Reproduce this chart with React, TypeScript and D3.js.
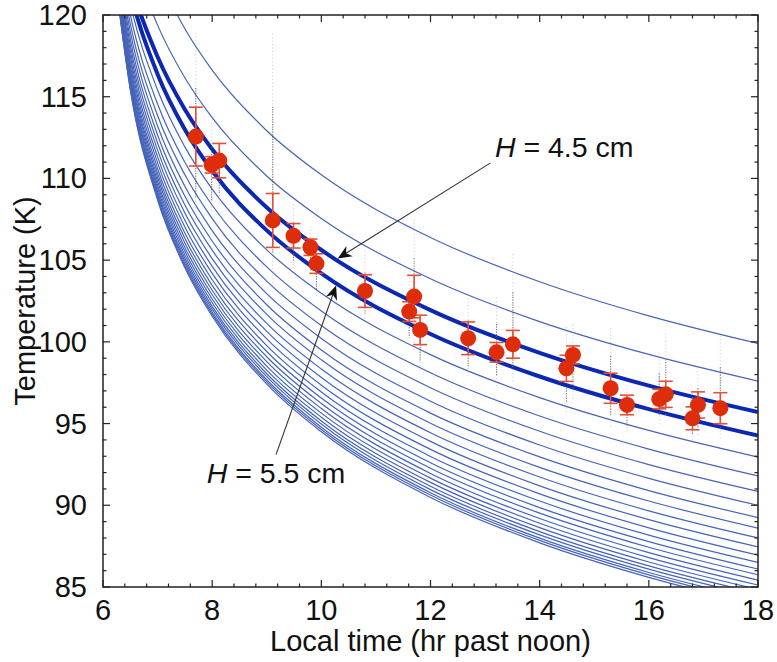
import React from 'react';
import * as d3 from 'd3';

// Model cooling curves: temperature (K) sampled at these local times (hr past noon)
const curveX = [6.2, 6.5, 7, 7.5, 8, 9, 10, 12, 14, 16, 18];
const modelCurves: number[][] = [
  [131.83, 127.38, 122.51, 119.16, 116.63, 112.92, 110.22, 106.39, 103.68, 101.59, 99.9],
  [128.34, 124.06, 119.38, 116.16, 113.72, 110.15, 107.55, 103.86, 101.24, 99.23, 97.6],
  [126.41, 122.13, 117.44, 114.22, 111.79, 108.22, 105.62, 101.94, 99.33, 97.32, 95.7],
  [126.32, 121.46, 116.38, 113.0, 110.47, 106.82, 104.19, 100.48, 97.88, 95.88, 94.26],
  [125.88, 120.7, 115.41, 111.93, 109.35, 105.63, 102.97, 99.22, 96.59, 94.58, 92.95],
  [125.5, 120.03, 114.55, 110.99, 108.36, 104.59, 101.89, 98.11, 95.46, 93.44, 91.8],
  [125.18, 119.47, 113.85, 110.22, 107.54, 103.72, 101.0, 97.19, 94.53, 92.49, 90.85],
  [124.9, 118.98, 113.21, 109.52, 106.81, 102.95, 100.21, 96.37, 93.69, 91.65, 90.0],
  [124.65, 118.54, 112.66, 108.91, 106.17, 102.27, 99.5, 95.64, 92.96, 90.9, 89.25],
  [124.43, 118.16, 112.17, 108.38, 105.61, 101.68, 98.9, 95.02, 92.32, 90.26, 88.6],
  [124.23, 117.81, 111.73, 107.89, 105.09, 101.13, 98.34, 94.44, 91.73, 89.66, 88.0],
  [124.05, 117.49, 111.32, 107.44, 104.62, 100.64, 97.82, 93.91, 91.19, 89.12, 87.45],
  [123.88, 117.2, 110.95, 107.03, 104.19, 100.18, 97.35, 93.42, 90.7, 88.62, 86.95],
  [123.73, 116.94, 110.61, 106.66, 103.8, 99.77, 96.93, 92.99, 90.26, 88.17, 86.5],
  [123.6, 116.7, 110.32, 106.34, 103.46, 99.41, 96.56, 92.6, 89.86, 87.78, 86.1],
  [123.48, 116.5, 110.06, 106.05, 103.16, 99.09, 96.23, 92.27, 89.52, 87.43, 85.75],
  [123.37, 116.31, 109.81, 105.78, 102.88, 98.79, 95.92, 91.95, 89.19, 87.1, 85.42],
  [123.27, 116.13, 109.59, 105.54, 102.62, 98.52, 95.64, 91.66, 88.9, 86.8, 85.12],
  [123.18, 115.97, 109.39, 105.32, 102.39, 98.27, 95.39, 91.4, 88.63, 86.53, 84.85],
  [123.09, 115.83, 109.2, 105.11, 102.17, 98.05, 95.16, 91.16, 88.39, 86.29, 84.6],
  [123.03, 115.71, 109.05, 104.95, 102.0, 97.87, 94.97, 90.96, 88.19, 86.09, 84.4],
  [122.96, 115.6, 108.9, 104.79, 101.83, 97.68, 94.78, 90.77, 87.99, 85.89, 84.2],
  [122.91, 115.51, 108.79, 104.66, 101.7, 97.55, 94.64, 90.63, 87.85, 85.74, 84.05],
  [122.86, 115.42, 108.68, 104.54, 101.57, 97.41, 94.5, 90.48, 87.7, 85.59, 83.9],
];
const thickCurves = [2, 3]; // H = 4.5 cm and H = 5.5 cm

// Observations
const pointX = [7.7, 7.99, 8.13, 9.11, 9.49, 9.8, 9.91, 10.8, 11.61, 11.7, 11.81, 12.69, 13.21, 13.51, 14.49, 14.61, 15.3, 15.6, 16.19, 16.31, 16.8, 16.9, 17.31];
const pointT = [112.56, 110.83, 111.09, 107.43, 106.49, 105.79, 104.79, 103.11, 101.85, 102.77, 100.73, 100.22, 99.36, 99.85, 98.38, 99.2, 97.16, 96.14, 96.5, 96.79, 95.32, 96.14, 95.94];
const pointErr = [1.8, 0.5, 1.05, 1.65, 0.75, 0.5, 0.6, 1.0, 0.6, 1.3, 0.9, 1.0, 0.6, 0.85, 0.8, 0.55, 0.92, 0.6, 0.6, 0.8, 0.7, 0.8, 0.95];
const scatterLo = [107.5, 108.0, 108.5, 103.6, 104.5, 104.0, 102.8, 101.2, 99.8, 99.5, 98.3, 97.9, 97.3, 97.6, 95.7, 96.5, 94.8, 94.5, 95.0, 95.5, 94.0, 94.3, 94.1];
const scatterHi = [119.0, 113.6, 113.4, 119.0, 108.5, 107.0, 106.0, 105.6, 104.5, 107.5, 103.0, 102.8, 102.8, 105.4, 101.0, 101.2, 101.0, 97.5, 99.5, 100.5, 97.0, 98.5, 100.4];

const xTicks = [6, 8, 10, 12, 14, 16, 18];
const yTicks = [85, 90, 95, 100, 105, 110, 115, 120];

const annotLabels = ['4.5', '5.5'];
const annotTextX = [13.18, 7.9];
const annotTextT = [111.32, 91.36];
const annotFromX = [13.1, 9.17];
const annotFromT = [110.95, 93.1];
const annotToX = [10.3, 10.27];
const annotToT = [105.1, 103.45];

const FONT = "'Liberation Sans', Arial, Helvetica, sans-serif";

export default function App() {
  const left = 103, right = 758, top = 15, bottom = 587;
  const x = d3.scaleLinear().domain([6, 18]).range([left, right]);
  const y = d3.scaleLinear().domain([85, 120]).range([bottom, top]);
  const line = d3
    .line<[number, number]>()
    .x((d) => x(d[0]))
    .y((d) => y(d[1]))
    .curve(d3.curveMonotoneX);

  const xMinor = d3.range(0, 31).map((i) => 6 + i * 0.4);
  const yMinor = d3.range(85, 121, 1);
  const majLen = 7, minLen = 3.5;

  const thinColor = 'rgb(70,100,185)';
  const thickColor = 'rgb(12,40,178)';
  const red = 'rgb(222,45,10)';
  const barRed = 'rgb(225,80,55)';

  const arrows = annotLabels.map((lab, i) => {
    const x1 = x(annotFromX[i]), y1 = y(annotFromT[i]);
    const x2 = x(annotToX[i]), y2 = y(annotToT[i]);
    const len = Math.hypot(x2 - x1, y2 - y1);
    const ux = (x2 - x1) / len, uy = (y2 - y1) / len;
    const nx = -uy, ny = ux;
    const L = 14, w = 6;
    const bx = x2 - L * ux, by = y2 - L * uy;
    const mx = x2 - 0.7 * L * ux, my = y2 - 0.7 * L * uy;
    const head = `M${x2},${y2} L${bx + w * nx},${by + w * ny} L${mx},${my} L${bx - w * nx},${by - w * ny} Z`;
    return { lab, x1, y1, mx, my, head, tx: x(annotTextX[i]), ty: y(annotTextT[i]) };
  });

  return (
    <svg width={777} height={662} style={{ position: 'absolute', left: 0, top: 0, background: '#fff' }} fontFamily={FONT}>
      <defs>
        <clipPath id="plotClip">
          <rect x={left} y={top} width={right - left} height={bottom - top} />
        </clipPath>
      </defs>
      <rect x={0} y={0} width={777} height={662} fill="#fff" />
      <g clipPath="url(#plotClip)">
        {modelCurves.map((vals, i) =>
          thickCurves.includes(i) ? null : (
            <path key={'c' + i} d={line(curveX.map((cx, j) => [cx, vals[j]]))!} fill="none" stroke={thinColor} strokeWidth={1.2} />
          )
        )}
        {thickCurves.map((i) => (
          <path key={'t' + i} d={line(curveX.map((cx, j) => [cx, modelCurves[i][j]]))!} fill="none" stroke={thickColor} strokeWidth={4} />
        ))}
        {pointX.map((px, i) => {
          const span = scatterHi[i] - scatterLo[i];
          return (
            <g key={'s' + i}>
              <line x1={x(px)} x2={x(px)} y1={y(scatterLo[i])} y2={y(scatterHi[i])} stroke="#aaa" strokeWidth={1} strokeDasharray="1 2.5" opacity={0.6} />
              <line x1={x(px)} x2={x(px)} y1={y(scatterLo[i] + 0.12 * span)} y2={y(scatterHi[i] - 0.3 * span)} stroke="#333" strokeWidth={1.1} strokeDasharray="1.2 1.3" opacity={0.6} />
            </g>
          );
        })}
        {pointX.map((px, i) => (
          <g key={'e' + i} stroke={barRed} strokeWidth={1.6}>
            <line x1={x(px)} x2={x(px)} y1={y(pointT[i] - pointErr[i])} y2={y(pointT[i] + pointErr[i])} />
            <line x1={x(px) - 7} x2={x(px) + 7} y1={y(pointT[i] - pointErr[i])} y2={y(pointT[i] - pointErr[i])} />
            <line x1={x(px) - 7} x2={x(px) + 7} y1={y(pointT[i] + pointErr[i])} y2={y(pointT[i] + pointErr[i])} />
          </g>
        ))}
        {pointX.map((px, i) => (
          <circle key={'p' + i} cx={x(px)} cy={y(pointT[i])} r={8} fill={red} />
        ))}
      </g>

      {/* annotations */}
      {arrows.map((a, i) => (
        <g key={'a' + i}>
          <line x1={a.x1} y1={a.y1} x2={a.mx} y2={a.my} stroke="#333" strokeWidth={1.1} />
          <path d={a.head} fill="#111" />
          <text x={a.tx} y={a.ty} fontSize={28.5} fill="#111">
            <tspan fontStyle="italic">H</tspan>
            <tspan> = {a.lab} cm</tspan>
          </text>
        </g>
      ))}

      {/* frame */}
      <rect x={left} y={top} width={right - left} height={bottom - top} fill="none" stroke="#222" strokeWidth={1.5} />
      {/* ticks */}
      <g stroke="#222" strokeWidth={1.2}>
        {xMinor.map((v, i) => {
          const len = Math.abs(v - Math.round(v / 2) * 2) < 1e-6 ? majLen : minLen;
          return (
            <g key={'xt' + i}>
              <line x1={x(v)} x2={x(v)} y1={bottom} y2={bottom - len} />
              <line x1={x(v)} x2={x(v)} y1={top} y2={top + len} />
            </g>
          );
        })}
        {yMinor.map((v, i) => {
          const len = v % 5 === 0 ? majLen : minLen;
          return (
            <g key={'yt' + i}>
              <line x1={left} x2={left + len} y1={y(v)} y2={y(v)} />
              <line x1={right} x2={right - len} y1={y(v)} y2={y(v)} />
            </g>
          );
        })}
      </g>
      {/* tick labels */}
      {xTicks.map((v) => (
        <text key={'xl' + v} x={x(v)} y={620} fontSize={29} textAnchor="middle" fill="#111">
          {v}
        </text>
      ))}
      {yTicks.map((v) => (
        <text key={'yl' + v} x={87} y={y(v) + 10} fontSize={29} textAnchor="end" fill="#111">
          {v}
        </text>
      ))}
      <text x={(left + right) / 2} y={651} fontSize={29} textAnchor="middle" fill="#111">
        Local time (hr past noon)
      </text>
      <text transform={`translate(35,${(top + bottom) / 2}) rotate(-90)`} fontSize={29} textAnchor="middle" fill="#111">
        Temperature (K)
      </text>
    </svg>
  );
}
